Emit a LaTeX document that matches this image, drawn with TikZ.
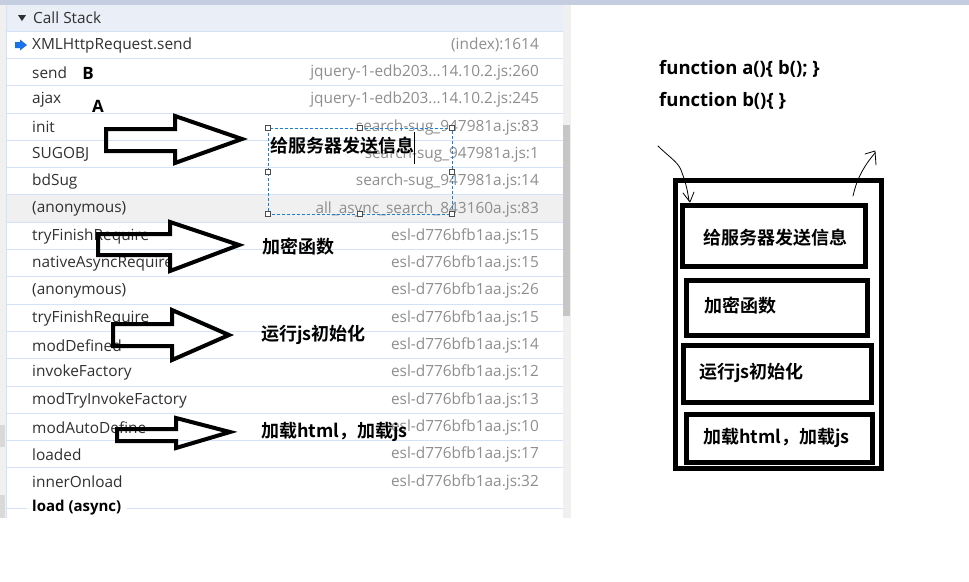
\documentclass[tikz,border=0pt]{standalone}
\usepackage{fontspec}
\setmainfont{Open Sans}
\newfontfamily\cjk{Noto Sans CJK SC}[BoldFont={Noto Sans CJK SC Bold}]

\definecolor{topbar}{HTML}{C5CEE0}
\definecolor{header}{HTML}{EAEEF7}
\definecolor{rowsep}{HTML}{D4E2F8}
\definecolor{gutter}{HTML}{F0F0F0}
\definecolor{fntext}{HTML}{303030}
\definecolor{srctext}{HTML}{8E8E8E}
\definecolor{selblue}{HTML}{1A7FD9}
\definecolor{iconblue}{HTML}{1A73E8}

\tikzset{
  fn/.style={anchor=west, inner sep=0pt, text=fntext, font=\fontsize{15.4}{18}\selectfont},
  src/.style={anchor=east, inner sep=0pt, text=srctext, font=\fontsize{15.4}{18}\selectfont},
  rowline/.style={draw=rowsep, line width=0.8pt},
  hollow/.style={draw=black, line width=4pt, line join=miter},
  note/.style={anchor=west, inner sep=0pt, font=\cjk\bfseries\fontsize{18}{21}\selectfont},
  slot/.style={draw=black, line width=5pt},
  handle/.style={draw=gray!60!black, fill=white, line width=0.6pt, minimum size=5pt, inner sep=0pt},
  pen/.style={draw=black, line width=0.8pt, line cap=round, line join=round},
  letter/.style={inner sep=0pt, font=\bfseries\fontsize{17}{19}\selectfont},
  code/.style={anchor=west, inner sep=0pt, font=\bfseries\fontsize{18.5}{21}\selectfont},
}

% hollow block arrow: tail x, tail top, tail bottom, head x, head top, head bottom, tip x, tip y
\newcommand{\hollowarrow}[8]{%
  \draw[hollow] (#1,#2) -- (#4,#2) -- (#4,#5) -- (#7,#8) -- (#4,#6) -- (#4,#3) -- (#1,#3) -- cycle;}

\begin{document}
\begin{tikzpicture}[x=1pt,y=-1pt]
\useasboundingbox (0,0) rectangle (969,581);

% window background
\fill[topbar] (0,0) rectangle (969,5);
\fill[gutter] (0,5) rectangle (6,518);
\fill[gray!30] (0,425) rectangle (5,447);
\fill[gray!30] (0,495) rectangle (5,518);
\draw[rowsep] (6.5,5) -- (6.5,518);
\fill[header] (7,5) rectangle (563,31);
\fill[gutter] (563,5) rectangle (571,518);
\fill[gray!45] (563,125) rectangle (570,316);
\fill[gutter] (7,194.8) rectangle (563,222.1);

% header
\fill[fntext] (18,15) -- (26,15) -- (22,21) -- cycle;
\node[fn] (head) at (33,18) {Call Stack};

% rows
\foreach \k in {0,...,16}
  \draw[rowline] (7,{31+27.3*\k}) -- (563,{31+27.3*\k});
\draw[rowline] (7,508.5) -- (27,508.5);
\draw[rowline] (127,508.5) -- (563,508.5);

\fill[iconblue] (15,42) -- (20,42) -- (20,39.5) -- (27,45) -- (20,50.5) -- (20,48) -- (15,48) -- cycle;

\node[fn] (f0) at (32,45.2) {XMLHttpRequest.send};
\node[src] (s0) at (539,45.2) {(index):1614};
\node[fn] (f1) at (32,72.5) {send};
\node[src] (s1) at (539,72.5) {jquery-1-edb203...14.10.2.js:260};
\node[fn] (f2) at (32,99.8) {ajax};
\node[src] (s2) at (539,99.8) {jquery-1-edb203...14.10.2.js:245};
\node[fn] (f3) at (32,127.1) {init};
\node[src] (s3) at (539,127.1) {search-sug\_947981a.js:83};
\node[fn] (f4) at (32,154.4) {SUGOBJ};
\node[src] (s4) at (539,154.4) {search-sug\_947981a.js:1};
\node[fn] (f5) at (32,181.7) {bdSug};
\node[src] (s5) at (539,181.7) {search-sug\_947981a.js:14};
\node[fn] (f6) at (32,209) {(anonymous)};
\node[src] (s6) at (539,209) {all\_async\_search\_843160a.js:83};
\node[fn] (f7) at (32,236.3) {tryFinishRequire};
\node[src] (s7) at (539,236.3) {esl-d776bfb1aa.js:15};
\node[fn] (f8) at (32,263.6) {nativeAsyncRequire};
\node[src] (s8) at (539,263.6) {esl-d776bfb1aa.js:15};
\node[fn] (f9) at (32,290.9) {(anonymous)};
\node[src] (s9) at (539,290.9) {esl-d776bfb1aa.js:26};
\node[fn] (f10) at (32,318.2) {tryFinishRequire};
\node[src] (s10) at (539,318.2) {esl-d776bfb1aa.js:15};
\node[fn] (f11) at (32,345.5) {modDefined};
\node[src] (s11) at (539,345.5) {esl-d776bfb1aa.js:14};
\node[fn] (f12) at (32,372.8) {invokeFactory};
\node[src] (s12) at (539,372.8) {esl-d776bfb1aa.js:12};
\node[fn] (f13) at (32,400.1) {modTryInvokeFactory};
\node[src] (s13) at (539,400.1) {esl-d776bfb1aa.js:13};
\node[fn] (f14) at (32,427.4) {modAutoDefine};
\node[src] (s14) at (539,427.4) {esl-d776bfb1aa.js:10};
\node[fn] (f15) at (32,454.7) {loaded};
\node[src] (s15) at (539,454.7) {esl-d776bfb1aa.js:17};
\node[fn] (f16) at (32,482) {innerOnload};
\node[src] (s16) at (539,482) {esl-d776bfb1aa.js:32};
\node[fn, font=\bfseries\fontsize{15}{18}\selectfont, text=black] (f17) at (32,508) {load (async)};

% marks A and B
\node[letter] (markB) at (88,73) {B};
\node[letter] (markA) at (98,106) {A};

% selection box round the first note
\draw[selblue, line width=0.8pt, dash pattern=on 3pt off 2pt] (268,128) rectangle (452,214);
\foreach \hx/\hy in {268/128,360/128,452/128,268/172,452/172,268/214,360/214,452/214}
  \node[handle] at (\hx,\hy) {};
\draw[black, line width=0.8pt] (414,132) -- (414,164);

% hollow arrows
\hollowarrow{106}{129}{151}{175}{116}{163}{242}{139}
\hollowarrow{98}{234}{255}{170}{222}{271}{239}{245}
\hollowarrow{113}{324}{346}{172}{310}{360}{229}{335}
\hollowarrow{117}{429}{441}{176}{418}{448}{230}{432}

% notes
\node[note] (n1) at (270,146) {给服务器发送信息};
\node[note] (n2) at (262,247) {加密函数};
\node[note] (n3) at (261,335) {运行js初始化};
\node[note] (n4) at (261,432) {加载html，加载js};

% right side
\node[code] (c1) at (659,69) {function a()\{ b(); \}};
\node[code] (c2) at (659,101) {function b()\{ \}};

\draw[slot] (675,180) rectangle (881,468);
\draw[slot] (682,205) rectangle (865,266);
\draw[slot] (686,280) rectangle (867,335);
\draw[slot] (683,345) rectangle (871,402);
\draw[slot] (686,414) rectangle (872,462);

\node[note] (b1) at (703,238) {给服务器发送信息};
\node[note] (b2) at (704,306) {加密函数};
\node[note] (b3) at (699,373) {运行js初始化};
\node[note] (b4) at (703,438) {加载html，加载js};

% hand drawn arrows
\draw[pen] (658,146) .. controls (668,156) and (678,162) .. (681,170) .. controls (684,178) and (687,186) .. (689,201);
\draw[pen] (683,193) -- (690,202) -- (694,192);
\draw[pen] (853,196) .. controls (856,182) and (862,168) .. (875,153);
\draw[pen] (865,154) -- (875,151) -- (876,165);

\end{tikzpicture}
\end{document}
